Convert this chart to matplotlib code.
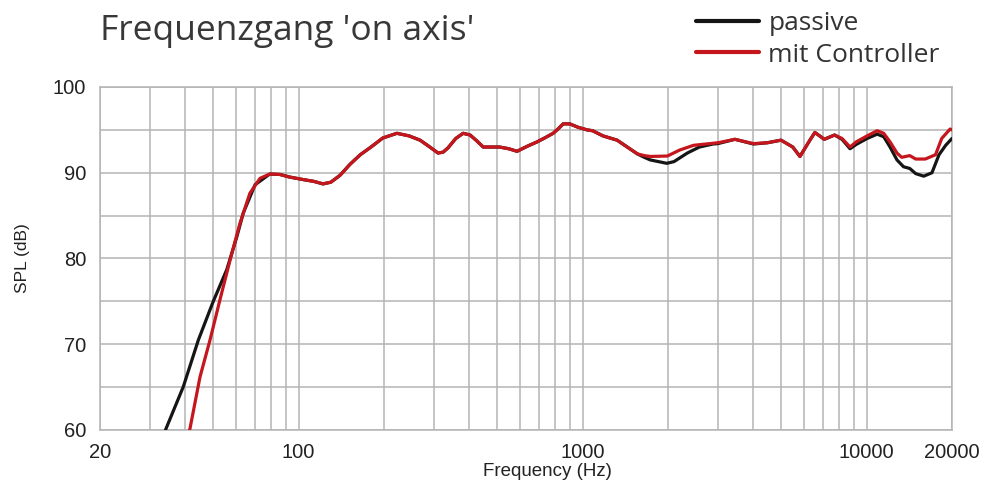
import matplotlib
matplotlib.use("Agg")
import matplotlib.pyplot as plt
from matplotlib.ticker import FixedLocator, LogLocator, NullFormatter

freq_passive = [33.5, 34.2, 39.3, 44.4, 50.1, 55.9, 60.6, 63.9, 70.3, 79.2, 86, 93, 104, 113, 122, 130, 140,
                152, 165, 180, 198, 222, 245, 268, 290, 310, 323, 336, 358, 380, 402, 425, 447, 480,
                510, 550, 588, 640, 692, 740, 788, 820, 855, 902, 965, 1038, 1085, 1180, 1324, 1437,
                1560, 1650, 1730, 1980, 2100, 2340, 2580, 2880, 3000, 3440, 4000, 4480, 5000, 5500,
                5830, 6320, 6580, 7100, 7720, 8200, 8750, 9200, 10050, 10900, 11500, 12100, 12800,
                13500, 14200, 14900, 15900, 17000, 18000, 19000, 20000]
spl_passive = [59.4, 60.2, 65.05, 70.5, 75.0, 78.7, 82.5, 85.3, 88.6, 89.85, 89.8, 89.5, 89.2, 89.0, 88.7,
               88.9, 89.7, 91.0, 92.1, 93.0, 94.05, 94.6, 94.3, 93.8, 93.0, 92.3, 92.4, 92.9, 94.0,
               94.6, 94.4, 93.7, 93.0, 93.0, 93.0, 92.8, 92.5, 93.1, 93.6, 94.1, 94.6, 95.1, 95.7,
               95.7, 95.3, 95.0, 94.9, 94.3, 93.8, 93.0, 92.2, 91.8, 91.5, 91.1, 91.3, 92.3, 93.0,
               93.35, 93.4, 93.9, 93.35, 93.5, 93.8, 93.0, 91.9, 93.8, 94.7, 93.9, 94.4, 93.9, 92.8,
               93.3, 94.0, 94.5, 94.2, 93.0, 91.5, 90.7, 90.5, 89.9, 89.6, 90.0, 92.1, 93.2, 94.0]

freq_ctrl = [41.0, 41.5, 45.0, 48.8, 52.9, 57.4, 62.2, 67.4, 73.2, 79.2, 86, 93, 104, 113, 122, 130, 140,
             152, 165, 180, 198, 222, 245, 268, 290, 310, 323, 336, 358, 380, 402, 425, 447, 480,
             510, 550, 588, 640, 692, 740, 788, 820, 855, 902, 965, 1038, 1085, 1180, 1324, 1437,
             1560, 1650, 1730, 1990, 2200, 2460, 3000, 3440, 4000, 4480, 5000, 5500, 5830, 6320,
             6580, 7100, 7720, 8200, 8750, 9200, 10050, 10900, 11500, 12100, 12800, 13300, 14200,
             14900, 16100, 17500, 18400, 19700, 20000]
spl_ctrl = [59.5, 60.2, 66.2, 70.5, 75.2, 79.8, 84.1, 87.6, 89.35, 89.85, 89.8, 89.5, 89.2, 89.0, 88.7,
            88.9, 89.7, 91.0, 92.1, 93.0, 94.05, 94.6, 94.3, 93.8, 93.0, 92.3, 92.4, 92.9, 94.0,
            94.6, 94.4, 93.7, 93.0, 93.0, 93.0, 92.8, 92.5, 93.1, 93.6, 94.1, 94.6, 95.1, 95.7,
            95.7, 95.3, 95.0, 94.9, 94.3, 93.8, 93.0, 92.2, 92.0, 91.9, 91.95, 92.65, 93.2, 93.5,
            93.9, 93.4, 93.5, 93.8, 93.0, 91.9, 93.8, 94.7, 93.9, 94.4, 94.0, 93.0, 93.6, 94.3,
            94.9, 94.6, 93.6, 92.3, 91.8, 92.0, 91.6, 91.6, 92.1, 94.0, 95.1, 95.0]

x_ticks = [20, 100, 1000, 10000, 20000]
x_tick_labels = ["20", "100", "1000", "10000", "20000"]
y_ticks = [60, 70, 80, 90, 100]

grid_c = "#b4b4b4"

fig = plt.figure(figsize=(9.88, 4.92), dpi=100)
ax = fig.add_axes([100/988, 1-430/492, 852/988, 343/492])

ax.plot(freq_passive, spl_passive, color="#151515", lw=2.3, solid_joinstyle="round",
        solid_capstyle="round", label="passive", zorder=3)
ax.plot(freq_ctrl, spl_ctrl, color="#c4161c", lw=2.3, solid_joinstyle="round",
        solid_capstyle="round", label="mit Controller", zorder=4)

ax.set_xscale("log")
ax.set_xlim(20, 20000)
ax.set_ylim(60, 100)

ax.xaxis.set_major_locator(FixedLocator(x_ticks))
ax.set_xticklabels(x_tick_labels)
ax.xaxis.set_minor_locator(LogLocator(base=10, subs=range(1, 10), numticks=20))
ax.xaxis.set_minor_formatter(NullFormatter())
ax.yaxis.set_major_locator(FixedLocator(y_ticks))
ax.yaxis.set_minor_locator(FixedLocator([65, 75, 85, 95]))

ax.grid(True, which="both", color=grid_c, lw=1.1)
for s in ax.spines.values():
    s.set_color(grid_c)
    s.set_linewidth(1.1)
ax.tick_params(which="both", length=0)
ax.tick_params(axis="x", pad=9)
ax.tick_params(axis="y", pad=10)
for lab in ax.get_xticklabels() + ax.get_yticklabels():
    lab.set_fontfamily("Liberation Sans")
    lab.set_fontsize(14.5)
    lab.set_color("#222222")

fig.text(547/988, 1-472/492, "Frequency (Hz)", ha="center", va="center",
         fontsize=13.5, family="Liberation Sans", color="#222222")
fig.text(23/988, 1-258/492, "SPL (dB)", ha="center", va="center", rotation=90,
         fontsize=12.5, family="Liberation Sans", color="#222222")

fig.text(100/988, 1-31/492, "Frequenzgang 'on axis'", ha="left", va="center",
         fontsize=25.5, family="Open Sans", color="#383838")

leg = fig.legend(loc="upper left", bbox_to_anchor=(696/988, 1-11/492), frameon=False,
                 prop={"family": "Open Sans", "size": 19}, handlelength=2.4,
                 handletextpad=0.34, labelspacing=0.25, borderpad=0, borderaxespad=0)
for t in leg.get_texts():
    t.set_color("#333333")
for h in leg.get_lines():
    h.set_linewidth(3)

fig.savefig("out.png", dpi=100)
